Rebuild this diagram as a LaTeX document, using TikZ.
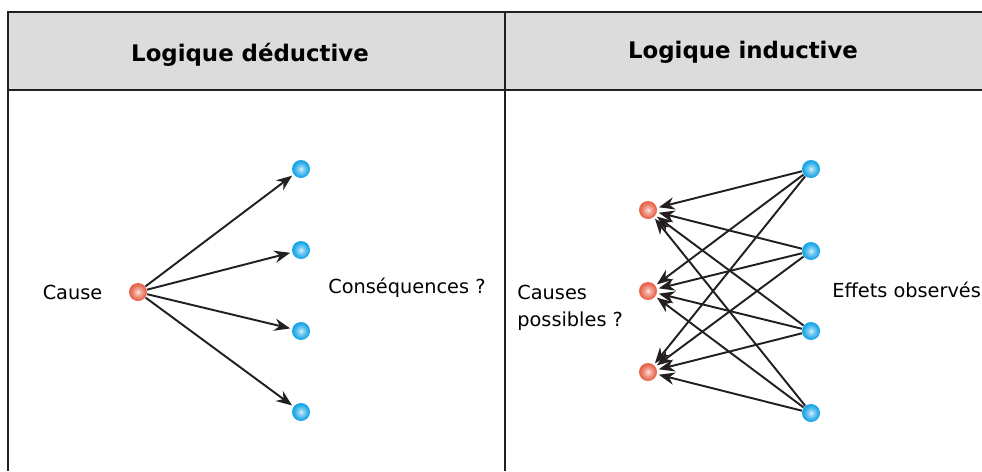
\documentclass[tikz,border=0pt]{standalone}
\usepackage{fontspec}
\setmainfont{DejaVu Sans}
\usetikzlibrary{positioning,arrows.meta}

\definecolor{headgray}{RGB}{220,220,220}
\definecolor{rulegray}{RGB}{35,31,32}
\definecolor{causered}{RGB}{232,100,75}
\definecolor{effetblue}{RGB}{25,165,230}

% bright balls, light in the middle
\pgfdeclareradialshading{balleR}{\pgfpoint{0bp}{0bp}}{color(0bp)=(causered!15!white); color(8bp)=(causered!55!white); color(22bp)=(causered); color(50bp)=(causered)}
\pgfdeclareradialshading{balleB}{\pgfpoint{0bp}{0bp}}{color(0bp)=(effetblue!15!white); color(8bp)=(effetblue!55!white); color(22bp)=(effetblue); color(50bp)=(effetblue)}

\tikzset{
  cause/.style={circle, inner sep=0pt, minimum size=0.36cm, shading=balleR},
  effet/.style={circle, inner sep=0pt, minimum size=0.36cm, shading=balleB},
  lien/.style={draw=rulegray, line width=1.1pt, -{Stealth[length=9pt,width=7pt]}, shorten >=1pt},
  titre/.style={font=\fontsize{13}{15}\selectfont\bfseries},
  texte/.style={font=\fontsize{11}{15.5}\selectfont, inner sep=0pt}
}

\begin{document}
\begin{tikzpicture}[x=0.02cm, y=-0.02cm]% 1 unit = 1 pixel of the reference
\useasboundingbox (0,0) rectangle (982,471);

% table frame and header
\fill[headgray] (8,12) rectangle (982,90);
\draw[rulegray, line width=1.2pt] (982,12) -- (8,12) -- (8,471);
\draw[rulegray, line width=1.2pt] (8,90) -- (982,90);
\draw[rulegray, line width=1.2pt] (505,12) -- (505,471);

\node[titre] (tdeduc) at (250,55) {Logique déductive};
\node[titre] (tinduc) at (743,52) {Logique inductive};

% deductive side: one cause, four consequences
\node[cause] (D-c) at (138,292) {};
\foreach[count=\xi] \y in {169,250,331,412}{ %\xi is the counter \y is the height
\node[effet] (D-\xi) at (301,\y) {};
\draw[lien] (D-c) -- (D-\xi);
}
\node[texte, left=0.52cm of D-c] (lcause) {Cause};
\node[texte, anchor=west] (lconseq) at (328,288) {Conséquences ?};

% inductive side: every observed effect points to every possible cause
\foreach[count=\xi] \y in {210,291,372}{
\node[cause] (I-c-\xi) at (648,\y) {};
}
\foreach[count=\xi] \y in {169,251,331,413}{
\node[effet] (I-e-\xi) at (811,\y) {};
}
\foreach \i in {1,...,4}{
  \foreach \j in {1,2,3}{
    \draw[lien] (I-e-\i) -- (I-c-\j);
  }
}
\node[texte, anchor=west, align=left] (lcauses) at (517,308) {Causes\\possibles ?};
\node[texte, anchor=west] (leffets) at (832,290) {Effets observés};

\end{tikzpicture}
\end{document}
